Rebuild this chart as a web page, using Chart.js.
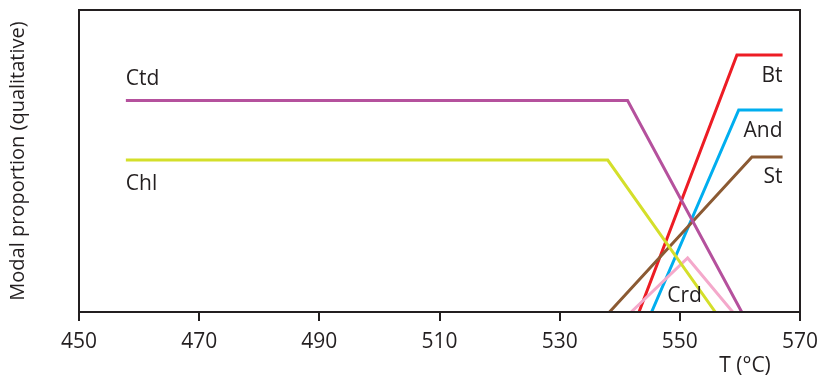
<!DOCTYPE html>
<html>
<head>
<meta charset="utf-8">
<script src="https://cdn.jsdelivr.net/npm/chart.js@4"></script>
<style>
  html, body { margin: 0; padding: 0; background: #fff; }
  #wrap { width: 823px; height: 377px; }
</style>
</head>
<body>
<div id="wrap"><canvas id="chart"></canvas></div>
<script>
// temperature ticks (°C)
const tempTicks = [450, 470, 490, 510, 530, 550, 570];

// each mineral: temperatures and qualitative modal proportion
const ctdT = [457.8, 541.3, 560.3];
const ctdP = [70, 70, 0];
const chlT = [457.8, 538.0, 555.9];
const chlP = [50.3, 50.3, 0];
const btT  = [543.2, 559.5, 567.1];
const btP  = [0, 85.1, 85.1];
const andT = [545.3, 559.8, 567.1];
const andP = [0, 66.9, 66.9];
const stT  = [538.3, 562.0, 567.1];
const stP  = [0, 51.3, 51.3];
const crdT = [541.9, 551.3, 558.8];
const crdP = [0, 17.9, 0];

const ink = '#231f20';
const font = '"Open Sans", "Noto Sans", sans-serif';

function pts(t, p) {
  return t.map((v, i) => ({x: v, y: p[i]}));
}

function series(label, t, p, color) {
  return {
    label: label,
    data: pts(t, p),
    borderColor: color,
    backgroundColor: color,
    borderWidth: 3,
    pointRadius: 0,
    showLine: true,
    tension: 0
  };
}

// where the mineral names sit, in data units
const nameSpots = [
  {text: 'Ctd', x: 457.8, y: 77.2, align: 'left'},
  {text: 'Chl', x: 457.8, y: 42.4, align: 'left'},
  {text: 'Bt',  x: 567.1, y: 78.1, align: 'right'},
  {text: 'And', x: 567.1, y: 59.9, align: 'right'},
  {text: 'St',  x: 567.1, y: 44.7, align: 'right'},
  {text: 'Crd', x: 550.8, y: 5.3,  align: 'center'}
];

const decor = {
  id: 'decor',
  afterDatasetsDraw(chart) {
    const ctx = chart.ctx;
    const a = chart.chartArea;
    const xs = chart.scales.x, ys = chart.scales.y;
    ctx.save();
    ctx.strokeStyle = ink;
    ctx.lineWidth = 2;
    ctx.strokeRect(a.left, a.top, a.right - a.left, a.bottom - a.top);

    ctx.fillStyle = ink;
    ctx.font = '21px ' + font;
    ctx.textBaseline = 'middle';
    nameSpots.forEach(n => {
      ctx.textAlign = n.align;
      ctx.fillText(n.text, xs.getPixelForValue(n.x), ys.getPixelForValue(n.y));
    });

    ctx.font = '21px ' + font;
    ctx.textAlign = 'center';
    ctx.fillText('T (°C)', 745, 366);
    ctx.restore();
  }
};

new Chart(document.getElementById('chart'), {
  type: 'scatter',
  data: {
    datasets: [
      series('Ctd', ctdT, ctdP, '#b5519d'),
      series('Chl', chlT, chlP, '#d4df2a'),
      series('Crd', crdT, crdP, '#f4a9cb'),
      series('St', stT, stP, '#8b5a33'),
      series('Bt', btT, btP, '#ed1c24'),
      series('And', andT, andP, '#00aeef')
    ]
  },
  plugins: [decor],
  options: {
    responsive: true,
    maintainAspectRatio: false,
    animation: false,
    layout: { padding: { left: 0, right: 23, top: 10, bottom: 0 } },
    plugins: { legend: { display: false }, tooltip: { enabled: false } },
    scales: {
      x: {
        type: 'linear',
        min: 450,
        max: 570,
        afterBuildTicks: s => { s.ticks = tempTicks.map(v => ({value: v})); },
        afterFit: s => { s.height = 65; s.paddingLeft = 0; s.paddingRight = 0; },
        grid: { display: true, drawOnChartArea: false, drawTicks: true, tickLength: 9, color: ink, lineWidth: 2 },
        border: { display: true, color: ink, width: 2 },
        ticks: { color: ink, font: { family: font, size: 21 }, padding: 8, maxRotation: 0 }
      },
      y: {
        min: 0,
        max: 100,
        afterFit: s => { s.width = 79; },
        grid: { display: false },
        border: { display: true, color: ink, width: 2 },
        ticks: { display: false },
        title: {
          display: true,
          text: 'Modal proportion (qualitative)',
          color: ink,
          font: { family: font, size: 20 },
          padding: { top: 6, bottom: 0 }
        }
      }
    }
  }
});
</script>
</body>
</html>
